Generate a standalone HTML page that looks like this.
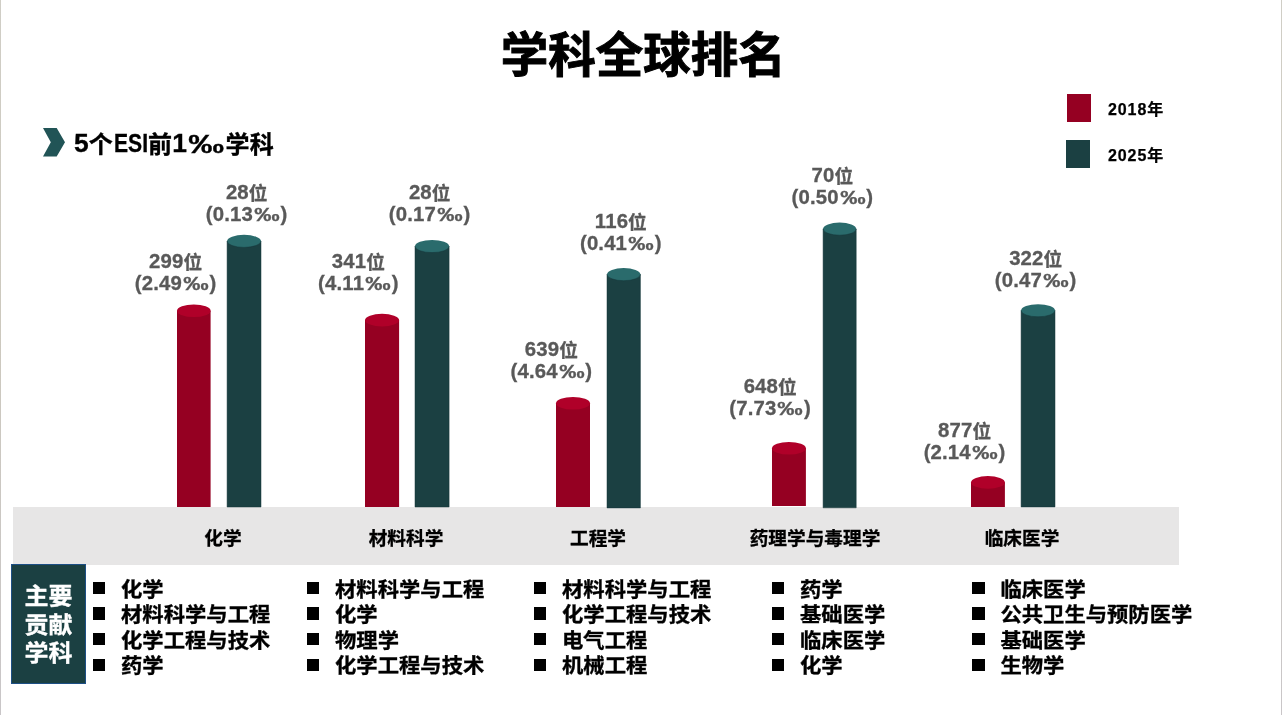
<!DOCTYPE html>
<html lang="zh-CN"><head><meta charset="utf-8"><title>学科全球排名</title>
<style>
html,body{margin:0;padding:0;background:#fff;}
body{width:1282px;height:715px;position:relative;overflow:hidden;font-family:"Liberation Sans","Noto Sans CJK SC",sans-serif;font-weight:bold;color:#000;}
.edge{position:absolute;top:0;width:1px;height:715px;background:linear-gradient(#d0cec6,#cdc9be 45%,#c9c6c8);}
h1{position:absolute;left:0;top:23.3px;width:1286.4px;margin:0;text-align:center;font-size:47.5px;line-height:66px;font-weight:700;-webkit-text-stroke:1px #000;letter-spacing:0;}
.sub{position:absolute;left:74px;top:127.5px;letter-spacing:.25px;-webkit-text-stroke:.35px #000;font-size:24px;line-height:34px;white-space:nowrap;}
.chev{position:absolute;left:42.8px;top:128.3px;}
.leg{-webkit-text-stroke:.25px #000;position:absolute;left:1108px;font-size:16px;line-height:20px;white-space:nowrap;}
.sq{position:absolute;left:1067px;width:24px;height:27.7px;}
.lab{position:absolute;width:160px;text-align:center;font-size:18.67px;line-height:22.6px;color:#595959;-webkit-text-stroke:.3px #595959;white-space:nowrap;}
.band{position:absolute;left:13px;top:507px;width:1166px;height:58px;background:#e7e6e6;}
.cat{-webkit-text-stroke:.3px #000;position:absolute;top:526px;width:200px;text-align:center;font-size:18.67px;line-height:26px;white-space:nowrap;}
.box{-webkit-text-stroke:.35px #fff;position:absolute;left:11px;top:564px;width:73px;height:118px;background:#1b4042;border:1px solid #1d4f85;color:#fff;font-size:24px;line-height:30px;text-align:center;display:flex;align-items:center;justify-content:center;}
.lst{-webkit-text-stroke:.35px #000;position:absolute;top:577.5px;margin:0;padding:0;list-style:none;font-size:21.33px;line-height:25.6px;white-space:nowrap;}
.lst li{position:relative;padding-left:29px;}
.lst li span{display:inline-block;transform:scaleY(.94);transform-origin:50% 62%;}
.lst li i{position:absolute;left:1px;top:4.4px;width:12.3px;height:12.4px;background:#000;}

.l{letter-spacing:1.05px;}
.lab .l{font-size:1.09em;letter-spacing:.15px;line-height:0;position:relative;top:-1px;}
.lab .pm{font-size:1em;width:1.48em;transform:scaleX(1.36);line-height:0;position:relative;top:-1px;}
.lab div{height:22.1px;}
.sub .l{font-size:1.1em;letter-spacing:0;line-height:0;position:relative;top:-.4px;}
.sub .pm{font-size:1.08em;line-height:0;margin:0 .8px 0 1px;}
.sub .e{display:inline-block;transform:scaleX(.8);transform-origin:0 50%;margin:0 -8.5px 0 1px;}
.leg .l{letter-spacing:.9px;}
.pm{display:inline-block;width:1.42em;text-align:center;transform:scaleX(1.38);}
svg.chart{position:absolute;left:0;top:0;}
</style></head><body>
<div class="edge" style="left:0"></div><div class="edge" style="left:1281px"></div>
<h1>学科全球排名</h1>
<svg class="chev" width="23" height="30" viewBox="0 0 23 30"><path d="M0 0H13.7L22 14.3L13.7 28.6H0L7.8 14.3Z" fill="#215456"/></svg>
<div class="sub"><span class="l">5</span>个<span class="l e">ESI</span>前<span class="l">1</span><span class="pm">‰</span>学科</div>
<div class="sq" style="top:94px;background:#950022"></div><div class="leg" style="top:100px"><span class="l">2018</span>年</div>
<div class="sq" style="top:140.2px;left:1066px;background:#1b4042"></div><div class="leg" style="top:146px"><span class="l">2025</span>年</div>
<div class="band"></div>
<svg class="chart" width="1282" height="715" viewBox="0 0 1282 715">
<path d="M177 310.7V507H210.6V310.7Z" fill="#950022"/>
<ellipse cx="193.80" cy="310.7" rx="16.80" ry="6.3" fill="#b00029"/>
<path d="M227.1 241.1V507H261.0V241.1Z" fill="#1b4042" stroke="#143538" stroke-width=".5"/>
<ellipse cx="244.05" cy="241.1" rx="16.95" ry="6.3" fill="#2a6b6c"/>
<path d="M227.1 241.1A16.95 6.3 0 0 0 261.0 241.1" fill="none" stroke="#143538" stroke-width=".5"/>
<path d="M365 320.1V507H399.1V320.1Z" fill="#950022"/>
<ellipse cx="382.05" cy="320.1" rx="17.05" ry="6.3" fill="#b00029"/>
<path d="M415 246.3V507H449.1V246.3Z" fill="#1b4042" stroke="#143538" stroke-width=".5"/>
<ellipse cx="432.05" cy="246.3" rx="17.05" ry="6.3" fill="#2a6b6c"/>
<path d="M415 246.3A17.05 6.3 0 0 0 449.1 246.3" fill="none" stroke="#143538" stroke-width=".5"/>
<path d="M556 403.2V507H590.0V403.2Z" fill="#950022"/>
<ellipse cx="573.00" cy="403.2" rx="17.00" ry="6.3" fill="#b00029"/>
<path d="M607 274.4V507.9H640.4V274.4Z" fill="#1b4042" stroke="#143538" stroke-width=".5"/>
<ellipse cx="623.70" cy="274.4" rx="16.70" ry="6.3" fill="#2a6b6c"/>
<path d="M607 274.4A16.70 6.3 0 0 0 640.4 274.4" fill="none" stroke="#143538" stroke-width=".5"/>
<path d="M772 448.3V506H805.9V448.3Z" fill="#950022"/>
<ellipse cx="788.95" cy="448.3" rx="16.95" ry="6.3" fill="#b00029"/>
<path d="M823.1 228.9V507.8H856.2V228.9Z" fill="#1b4042" stroke="#143538" stroke-width=".5"/>
<ellipse cx="839.65" cy="228.9" rx="16.55" ry="6.3" fill="#2a6b6c"/>
<path d="M823.1 228.9A16.55 6.3 0 0 0 856.2 228.9" fill="none" stroke="#143538" stroke-width=".5"/>
<path d="M971 482.4V506.9H1004.9V482.4Z" fill="#950022"/>
<ellipse cx="987.95" cy="482.4" rx="16.95" ry="6.3" fill="#b00029"/>
<path d="M1021.1 310.5V506.9H1055.0V310.5Z" fill="#1b4042" stroke="#143538" stroke-width=".5"/>
<ellipse cx="1038.05" cy="310.5" rx="16.95" ry="6.3" fill="#2a6b6c"/>
<path d="M1021.1 310.5A16.95 6.3 0 0 0 1055.0 310.5" fill="none" stroke="#143538" stroke-width=".5"/>
</svg>
<div class="lab" style="left:95.6px;top:251.7px"><div><span class="l">299</span>位</div><div><span class="l">(2.49</span><span class="pm">‰</span><span class="l">)</span></div></div>
<div class="lab" style="left:166.7px;top:182.8px"><div><span class="l">28</span>位</div><div><span class="l">(0.13</span><span class="pm">‰</span><span class="l">)</span></div></div>
<div class="lab" style="left:278.4px;top:251.7px"><div><span class="l">341</span>位</div><div><span class="l">(4.11</span><span class="pm">‰</span><span class="l">)</span></div></div>
<div class="lab" style="left:349.7px;top:182.8px"><div><span class="l">28</span>位</div><div><span class="l">(0.17</span><span class="pm">‰</span><span class="l">)</span></div></div>
<div class="lab" style="left:471.4px;top:339.7px"><div><span class="l">639</span>位</div><div><span class="l">(4.64</span><span class="pm">‰</span><span class="l">)</span></div></div>
<div class="lab" style="left:540.8px;top:212.1px"><div><span class="l">116</span>位</div><div><span class="l">(0.41</span><span class="pm">‰</span><span class="l">)</span></div></div>
<div class="lab" style="left:690.2px;top:376.9px"><div><span class="l">648</span>位</div><div><span class="l">(7.73</span><span class="pm">‰</span><span class="l">)</span></div></div>
<div class="lab" style="left:752.4px;top:166.1px"><div><span class="l">70</span>位</div><div><span class="l">(0.50</span><span class="pm">‰</span><span class="l">)</span></div></div>
<div class="lab" style="left:884.5px;top:420.7px"><div><span class="l">877</span>位</div><div><span class="l">(2.14</span><span class="pm">‰</span><span class="l">)</span></div></div>
<div class="lab" style="left:955.7px;top:249.0px"><div><span class="l">322</span>位</div><div><span class="l">(0.47</span><span class="pm">‰</span><span class="l">)</span></div></div>
<div class="cat" style="left:123px">化学</div>
<div class="cat" style="left:306px">材料科学</div>
<div class="cat" style="left:498px">工程学</div>
<div class="cat" style="left:715px">药理学与毒理学</div>
<div class="cat" style="left:922px">临床医学</div>
<div class="box"><div style="transform:translateY(1.2px) scaleY(.955)">主要<br>贡献<br>学科</div></div>
<ul class="lst" style="left:92px"><li><i></i><span>化学</span></li><li><i></i><span>材料科学与工程</span></li><li><i></i><span>化学工程与技术</span></li><li><i></i><span>药学</span></li></ul>
<ul class="lst" style="left:306px"><li><i></i><span>材料科学与工程</span></li><li><i></i><span>化学</span></li><li><i></i><span>物理学</span></li><li><i></i><span>化学工程与技术</span></li></ul>
<ul class="lst" style="left:533px"><li><i></i><span>材料科学与工程</span></li><li><i></i><span>化学工程与技术</span></li><li><i></i><span>电气工程</span></li><li><i></i><span>机械工程</span></li></ul>
<ul class="lst" style="left:771px"><li><i></i><span>药学</span></li><li><i></i><span>基础医学</span></li><li><i></i><span>临床医学</span></li><li><i></i><span>化学</span></li></ul>
<ul class="lst" style="left:971.4px"><li><i></i><span>临床医学</span></li><li><i></i><span>公共卫生与预防医学</span></li><li><i></i><span>基础医学</span></li><li><i></i><span>生物学</span></li></ul>
</body></html>
